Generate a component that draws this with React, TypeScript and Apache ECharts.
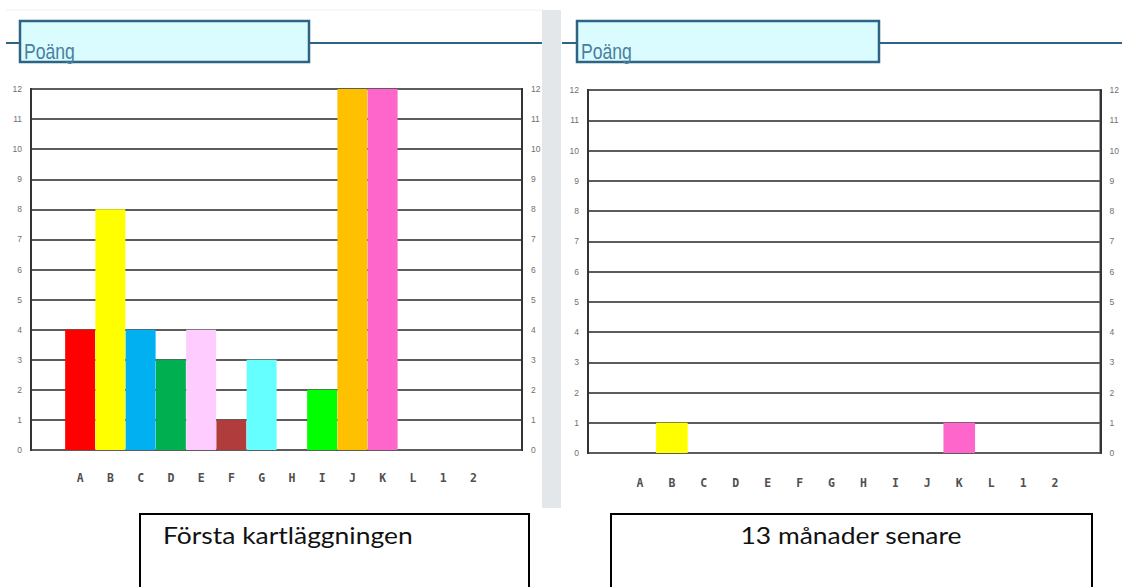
import React, { useEffect, useRef } from "react";
import * as echarts from "echarts";

const categories = ["A", "B", "C", "D", "E", "F", "G", "H", "I", "J", "K", "L", "1", "2"];
const barColors = [
  "#ff0000", "#ffff00", "#00b0f0", "#00b050", "#ffccff", "#b03c3c", "#66ffff",
  "#ffffff", "#00ff00", "#ffc000", "#ff66cc", "#ffffff", "#ffffff", "#ffffff",
];
const firstValues = [4, 8, 4, 3, 4, 1, 3, 0, 2, 12, 12, 0, 0, 0];
const laterValues = [0, 1, 0, 0, 0, 0, 0, 0, 0, 0, 1, 0, 0, 0];
const yTicks = { min: 0, max: 12, interval: 1 };
const headerText = "Poäng";
const captions = ["Första kartläggningen", "13 månader senare"];

export default function App() {
  const ref = useRef<HTMLDivElement>(null);
  useEffect(() => {
    document.body.style.margin = "0";
    const chart = echarts.init(ref.current!, null, { renderer: "svg" });

    const frames = [
      { left: 31, right: 1122 - 522, top: 89, bottom: 587 - 450 },
      { left: 588, right: 1122 - 1103, top: 90, bottom: 587 - 453 },
    ];
    const inners = [
      { left: 65, right: 1122 - 488.5, top: 89, bottom: 587 - 450 },
      { left: 624, right: 1122 - 1071, top: 90, bottom: 587 - 453 },
    ];
    const grids: any[] = [];
    const xAxes: any[] = [];
    const yAxes: any[] = [];
    const series: any[] = [];
    const labelStyle = { fontSize: 8.5, color: "#707070", fontFamily: "Liberation Sans" };

    [0, 1].forEach((i) => {
      const vals = i === 0 ? firstValues : laterValues;
      grids.push({ ...frames[i], show: true, borderColor: "#333", borderWidth: 2, backgroundColor: "#fff" });
      const fg = grids.length - 1;
      xAxes.push({ gridIndex: fg, type: "value", min: 0, max: 1, show: false });
      yAxes.push({
        gridIndex: fg, type: "value", ...yTicks, position: "left",
        axisLine: { show: true, lineStyle: { color: "#333", width: 2 } },
        axisTick: { show: false },
        axisLabel: { ...labelStyle, margin: 9 },
        splitLine: { show: true, lineStyle: { color: "#5c5c5c", width: 1.8 } },
      });
      yAxes.push({
        gridIndex: fg, type: "value", ...yTicks, position: "right",
        axisLine: { show: true, lineStyle: { color: "#333", width: 2 } },
        axisTick: { show: false },
        axisLabel: { ...labelStyle, margin: 9 },
        splitLine: { show: false },
      });
      grids.push({ ...inners[i] });
      const bg = grids.length - 1;
      xAxes.push({
        gridIndex: bg, type: "category", data: categories,
        axisLine: { show: false }, axisTick: { show: false },
        axisLabel: {
          margin: i === 0 ? 22 : 24, fontSize: 11.5, fontWeight: "bold",
          color: "#505050", fontFamily: "DejaVu Sans Mono, monospace",
          interval: 0,
        },
      });
      yAxes.push({ gridIndex: bg, type: "value", ...yTicks, show: false });
      series.push({
        type: "bar",
        xAxisIndex: xAxes.length - 1,
        yAxisIndex: yAxes.length - 1,
        barCategoryGap: "1%",
        data: vals.map((v, k) => ({ value: v, itemStyle: { color: barColors[k] } })),
        z: 3,
      });
    });

    const header = (x0: number, x1: number, lineStart: number, lineEnd: number) => [
      { type: "line", shape: { x1: lineStart, y1: 43, x2: x0, y2: 43 }, style: { stroke: "#2e6386", lineWidth: 2 }, z: 5 },
      { type: "line", shape: { x1: x1, y1: 43, x2: lineEnd, y2: 43 }, style: { stroke: "#2e6386", lineWidth: 2 }, z: 5 },
      { type: "rect", shape: { x: x0, y: 21, width: x1 - x0, height: 41 }, style: { fill: "#dafcfe", stroke: "#2e6386", lineWidth: 2.5 }, z: 5 },
      {
        type: "text", x: x0 + 4, y: 62, z: 6, scaleX: 0.8,
        style: { text: headerText, fill: "#4a7fa0", fontSize: 22, fontFamily: "Liberation Sans, Arial, sans-serif", verticalAlign: "bottom", align: "left" },
      },
    ];

    const caption = (x0: number, x1: number, text: string, tx: number, align: string) => [
      { type: "rect", shape: { x: x0, y: 514, width: x1 - x0, height: 90 }, style: { fill: "#fff", stroke: "#000", lineWidth: 2 }, z: 5 },
      {
        type: "text", x: tx, y: 535, z: 6, scaleX: 1.15,
        style: { text, fill: "#111", fontSize: 23, fontFamily: "Lato, Open Sans, sans-serif", verticalAlign: "middle", align },
      },
    ];

    chart.setOption({
      animation: false,
      backgroundColor: "#fff",
      grid: grids,
      xAxis: xAxes,
      yAxis: yAxes,
      series,
      graphic: [
        { type: "line", shape: { x1: 6, y1: 10, x2: 542, y2: 10 }, style: { stroke: "#f0f0f0", lineWidth: 1 } },
        { type: "rect", shape: { x: 542, y: 10, width: 19, height: 498 }, style: { fill: "#e4e7e9" }, z: 1 },
        ...header(20, 309, 6, 542),
        ...header(577, 879, 562, 1122),
        ...caption(140, 529, captions[0], 163, "left"),
        ...caption(611, 1092, captions[1], 851, "center"),
      ],
    });
    return () => chart.dispose();
  }, []);
  return <div ref={ref} style={{ width: 1122, height: 587 }} />;
}
